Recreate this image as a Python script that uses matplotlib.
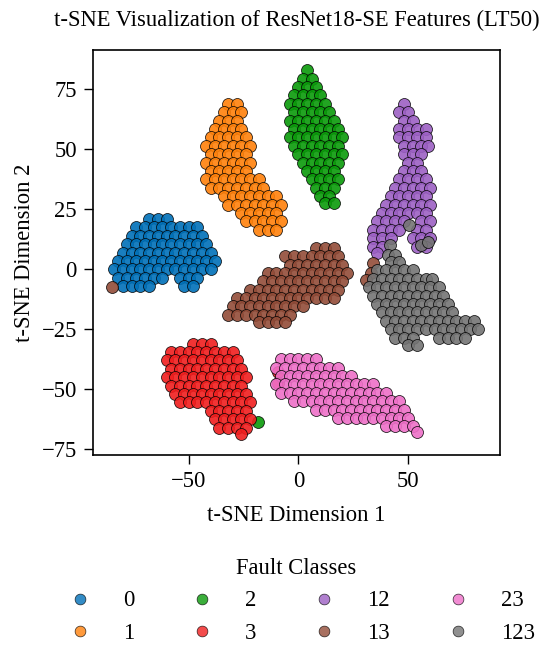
import matplotlib
matplotlib.use("Agg")
import matplotlib.pyplot as plt
from matplotlib.lines import Line2D

plt.rcParams['font.family'] = ['Liberation Serif', 'DejaVu Serif']
plt.rcParams['axes.unicode_minus'] = True

# ---- data: t-SNE points, per class, as rows (y, [x...]) ----
classes = ['0', '1', '2', '3', '12', '13', '23', '123']
colors = ['#0070B8', '#FF810B', '#0A9A0A', '#F01E1E', '#9C60C4', '#924C38', '#EE70C8', '#747474']

rows_0 = [
    (21, [-68, -64, -60]),
    (17.5, [-74, -70, -66, -62, -58, -54, -50, -46]),
    (14, [-76, -72, -68, -64, -60, -56, -52, -48, -44]),
    (10.5, [-78, -74, -70, -66, -62, -58, -54, -50, -46, -42]),
    (7, [-80, -76, -72, -68, -64, -60, -56, -52, -48, -44, -40]),
    (3.5, [-82, -78, -74, -70, -66, -62, -58, -54, -50, -46, -42, -38]),
    (0, [-84, -80, -76, -72, -68, -64, -60, -56, -52, -48, -44, -40]),
    (-3.5, [-82, -78, -74, -70, -66, -62, -54, -50, -46]),
    (-7, [-80, -76, -72, -68, -52, -48]),
]
rows_1 = [
    (69, [-32, -28]),
    (65.5, [-34, -30, -26]),
    (62, [-36, -32, -28]),
    (58.5, [-38, -34, -30, -26]),
    (55, [-40, -36, -32, -28, -24]),
    (51.5, [-42, -38, -34, -30, -26, -22]),
    (48, [-40, -36, -32, -28, -24]),
    (44.5, [-42, -38, -34, -30, -26, -22]),
    (41, [-40, -36, -32, -28, -24]),
    (37.5, [-42, -38, -34, -30, -26, -22, -18]),
    (34, [-40, -36, -32, -28, -24, -20, -16]),
    (30.5, [-34, -30, -26, -22, -18, -14, -10]),
    (27, [-32, -28, -24, -20, -16, -12, -8]),
    (23.5, [-26, -22, -18, -14, -10]),
    (20, [-24, -20, -16, -12, -8]),
    (16.5, [-18, -14, -10]),
]
rows_2 = [
    (83, [4]),
    (79.5, [2, 6]),
    (76, [0, 4, 8]),
    (72.5, [-2, 2, 6, 10]),
    (69, [-4, 0, 4, 8, 12]),
    (65.5, [-2, 2, 6, 10, 14]),
    (62, [-4, 0, 4, 8, 12, 16]),
    (58.5, [-2, 2, 6, 10, 14, 18]),
    (55, [-4, 0, 4, 8, 12, 16, 20]),
    (51.5, [-2, 2, 6, 10, 14, 18]),
    (48, [0, 4, 8, 12, 16, 20]),
    (44.5, [2, 6, 10, 14, 18]),
    (41, [4, 8, 12, 16]),
    (37.5, [6, 10, 14, 18]),
    (34, [8, 12, 16]),
    (30.5, [10, 14]),
    (27.5, [12, 16]),
    (-63.6, [-18.5]),
]
rows_3 = [
    (-31, [-48, -44, -40]),
    (-34.5, [-58, -54, -50, -46, -42, -38, -34, -30]),
    (-38, [-60, -56, -52, -48, -44, -40, -36, -32, -28]),
    (-41.5, [-58, -54, -50, -46, -42, -38, -34, -30, -26]),
    (-45, [-60, -56, -52, -48, -44, -40, -36, -32, -28, -24]),
    (-48.5, [-58, -54, -50, -46, -42, -38, -34, -30, -26]),
    (-52, [-56, -52, -48, -44, -40, -36, -32, -28, -24]),
    (-55.5, [-54, -50, -46, -42, -38, -34, -30, -26, -22]),
    (-59, [-40, -36, -32, -28, -24]),
    (-62.5, [-38, -34, -30, -26, -22]),
    (-66, [-36, -32, -28, -24]),
    (-68.5, [-26]),
    (-42.6, [-9.4]),
    (-47.4, [-9.4]),
]
rows_12 = [
    (69, [48]),
    (65.5, [46, 50]),
    (62, [48, 52]),
    (58.5, [46, 50, 54, 58]),
    (55, [46, 50, 54, 58]),
    (51.5, [48, 52, 56, 59]),
    (48, [48, 52, 56]),
    (44.5, [50, 54]),
    (41, [48, 52, 56]),
    (37.5, [46, 50, 54, 58]),
    (34, [44, 48, 52, 56, 60]),
    (30.5, [42, 46, 50, 54, 58]),
    (27, [40, 44, 48, 52, 56, 60]),
    (23.5, [38, 42, 46, 50, 54, 58]),
    (20, [36, 40, 44, 48, 56, 60]),
    (16.5, [34, 38, 42, 46, 54, 58]),
    (13, [34, 38, 42, 52, 56, 60]),
    (9.5, [34, 38, 54, 58]),
    (7, [36]),
]
rows_13 = [
    (9, [8, 12, 16]),
    (5.5, [-6, -2, 2, 6, 10, 14, 18]),
    (2, [-4, 0, 4, 8, 12, 16, 20]),
    (-1.5, [-14, -10, -6, -2, 2, 6, 10, 14, 18, 22]),
    (-5, [-16, -12, -8, -4, 0, 4, 8, 12, 16, 20]),
    (-8.5, [-22, -18, -14, -10, -6, -2, 2, 6, 10, 14, 18]),
    (-12, [-28, -24, -20, -16, -12, -8, -4, 0, 4, 8, 12, 16]),
    (-15.5, [-30, -26, -22, -18, -14, -10, -6, -2, 2]),
    (-19, [-32, -28, -24, -20, -16, -12, -8, -4]),
    (-22, [-18, -14, -10, -6]),
    (-7.4, [-85]),
    (2.6, [33.8]),
    (-1.6, [33]),
    (-4.4, [30.8]),
]
rows_23 = [
    (-37.5, [-8, -4, 0, 4, 8]),
    (-41, [-10, -6, -2, 2, 6, 10, 14, 18]),
    (-44.5, [-8, -4, 0, 4, 8, 12, 16, 20, 24]),
    (-48, [-10, -6, -2, 2, 6, 10, 14, 18, 22, 26, 30, 34]),
    (-51.5, [-8, -4, 0, 4, 8, 12, 16, 20, 24, 28, 32, 36, 40]),
    (-55, [-2, 2, 6, 10, 14, 18, 22, 26, 30, 34, 38, 42, 46]),
    (-58.5, [8, 12, 16, 20, 24, 28, 32, 36, 40, 44, 48]),
    (-62, [18, 22, 26, 30, 34, 38, 42, 46, 50]),
    (-65.5, [40, 44, 48, 52]),
    (-68, [54]),
]
rows_123 = [
    (18.5, [50.5]),
    (10, [41.5, 56]),
    (11.5, [59]),
    (6, [41, 44]),
    (3, [42, 46]),
    (-0.5, [36, 40, 44, 48, 52]),
    (-4, [34, 38, 42, 46, 50, 54, 58, 61]),
    (-7.5, [32, 36, 40, 44, 48, 52, 56, 60, 64]),
    (-11, [34, 38, 42, 46, 50, 54, 58, 62, 66]),
    (-14.5, [36, 40, 44, 48, 52, 56, 60, 64, 68]),
    (-18, [38, 42, 46, 50, 54, 58, 62, 66, 70]),
    (-21.5, [40, 44, 48, 52, 56, 60, 64, 68, 72, 76, 80]),
    (-25, [42, 46, 50, 54, 58, 62, 66, 70, 74, 78, 82]),
    (-28.5, [44, 48, 52, 64, 68, 72, 76]),
    (-31.5, [50, 54]),
]
all_rows = [rows_0, rows_1, rows_2, rows_3, rows_12, rows_13, rows_23, rows_123]

FS = 16.3
fig = plt.figure(figsize=(5.5, 6.46), dpi=100)
ax = fig.add_axes([0.169, 0.296, 0.740, 0.627])

for rows, col, lab in zip(all_rows, colors, classes):
    xs = [x for y, xl in rows for x in xl]
    ys = [y for y, xl in rows for _ in xl]
    ax.scatter(xs, ys, s=74, c=col, edgecolors='black', linewidths=0.55, alpha=0.9)

ax.set_xlim(-93.6, 91.8)
ax.set_ylim(-77.3, 91.5)
ax.set_xticks([-50, 0, 50])
ax.set_yticks([-75, -50, -25, 0, 25, 50, 75])
ax.tick_params(labelsize=FS, length=6.5, width=1, pad=5, colors='black')
for sp in ax.spines.values():
    sp.set_linewidth(1.2)
ax.set_xlabel('t-SNE Dimension 1', fontsize=FS, labelpad=9.5)
ax.set_ylabel('t-SNE Dimension 2', fontsize=FS, labelpad=5)
ax.set_title('t-SNE Visualization of ResNet18-SE Features (LT50)', fontsize=FS, pad=17)

handles = [Line2D([], [], marker='o', linestyle='', markersize=7.75, markerfacecolor=c,
                  markeredgecolor='black', markeredgewidth=0.5, alpha=0.8) for c in colors]
leg = fig.legend(handles, classes, title='Fault Classes', ncol=4, frameon=False,
                 loc='upper center', bbox_to_anchor=(0.538, 0.136), fontsize=FS,
                 title_fontsize=FS, columnspacing=2.0, handletextpad=0.9,
                 borderaxespad=0, borderpad=0)
fig.savefig('out.png', dpi=100)
